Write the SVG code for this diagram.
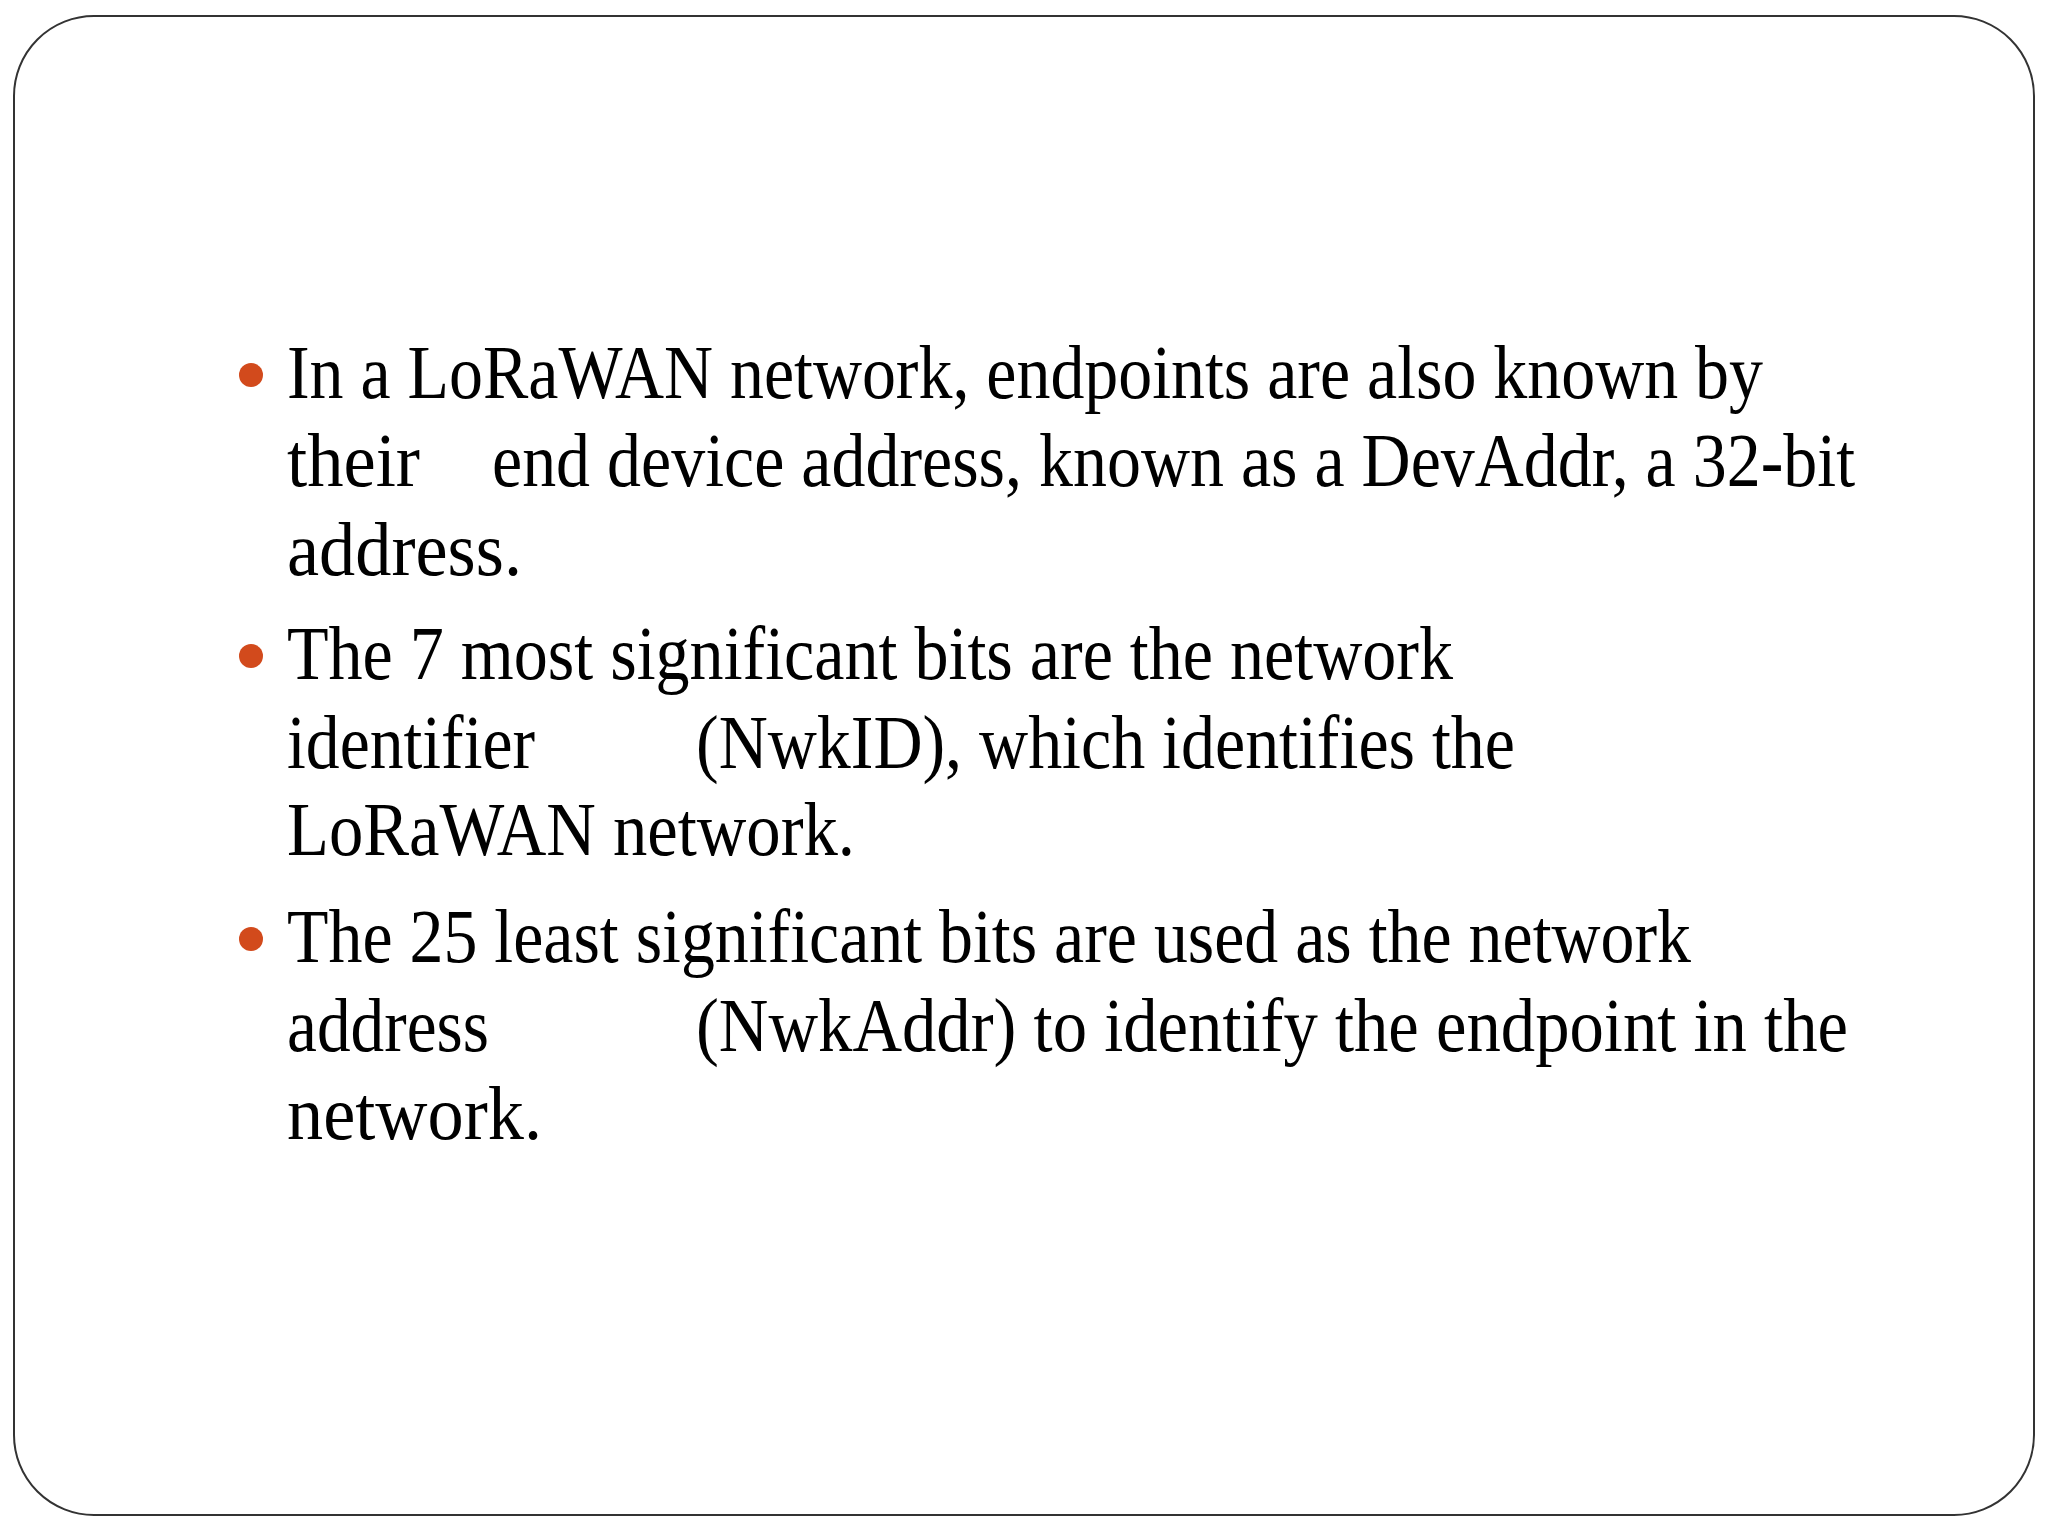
<svg xmlns="http://www.w3.org/2000/svg" width="2048" height="1536" viewBox="0 0 2048 1536">
<style>
.t{font-family:"Liberation Serif","Times New Roman",serif;font-size:76px;fill:#000}
.b{fill:#D24A1C}
</style>
<rect width="2048" height="1536" fill="#fff"/>
<rect x="14" y="16" width="2020" height="1499" rx="80" ry="80" fill="none" stroke="#333" stroke-width="2"/>
<g id="bullet1">
<circle class="b" cx="251" cy="375" r="12"/>
<text class="t" x="287" y="398" textLength="1476" lengthAdjust="spacingAndGlyphs">In a LoRaWAN network, endpoints are also known by</text>
<text class="t" x="287" y="486" textLength="133" lengthAdjust="spacingAndGlyphs">their</text>
<text class="t" x="492" y="486" textLength="1363" lengthAdjust="spacingAndGlyphs">end device address, known as a DevAddr, a 32-bit</text>
<text class="t" x="287" y="575" textLength="235" lengthAdjust="spacingAndGlyphs">address.</text>
</g>
<g id="bullet2">
<circle class="b" cx="251" cy="656" r="12"/>
<text class="t" x="287" y="679" textLength="1166" lengthAdjust="spacingAndGlyphs">The 7 most significant bits are the network</text>
<text class="t" x="287" y="768" textLength="248" lengthAdjust="spacingAndGlyphs">identifier</text>
<text class="t" x="696" y="768" textLength="819" lengthAdjust="spacingAndGlyphs">(NwkID), which identifies the</text>
<text class="t" x="287" y="855" textLength="568" lengthAdjust="spacingAndGlyphs">LoRaWAN network.</text>
</g>
<g id="bullet3">
<circle class="b" cx="251" cy="939" r="12"/>
<text class="t" x="287" y="962" textLength="1404" lengthAdjust="spacingAndGlyphs">The 25 least significant bits are used as the network</text>
<text class="t" x="287" y="1051" textLength="202" lengthAdjust="spacingAndGlyphs">address</text>
<text class="t" x="696" y="1051" textLength="1152" lengthAdjust="spacingAndGlyphs">(NwkAddr) to identify the endpoint in the</text>
<text class="t" x="287" y="1139" textLength="255" lengthAdjust="spacingAndGlyphs">network.</text>
</g>
<g id="connectors"/>
</svg>
